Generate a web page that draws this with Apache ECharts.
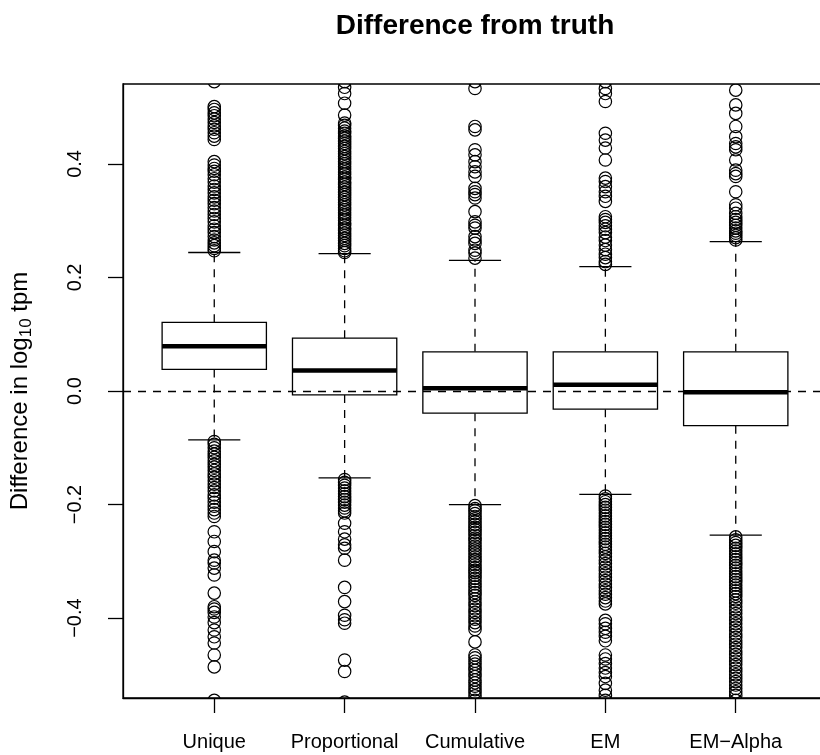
<!DOCTYPE html>
<html><head><meta charset="utf-8">
<script src="https://cdn.jsdelivr.net/npm/echarts@6/dist/echarts.min.js"></script>
<style>html,body{margin:0;padding:0;background:#fff}#c{width:820px;height:755px}</style>
</head><body><div id="c"></div>
<script>
const categories = ['Unique', 'Proportional', 'Cumulative', 'EM', 'EM\u2212Alpha'];
const whiskerLow = [-0.086, -0.153, -0.200, -0.182, -0.254];
const q1 = [0.038, -0.007, -0.039, -0.032, -0.061];
const median = [0.079, 0.036, 0.005, 0.011, -0.002];
const q3 = [0.121, 0.093, 0.069, 0.069, 0.069];
const whiskerHigh = [0.244, 0.242, 0.230, 0.219, 0.263];
const yTicks = [-0.4, -0.2, 0.0, 0.2, 0.4];

const outUnique = [
  0.545, 0.501, 0.496, 0.49, 0.485, 0.479, 0.473, 0.467, 0.461, 0.455, 0.449, 0.443,
  0.404, 0.398, 0.392, 0.387, 0.381, 0.374, 0.368, 0.361, 0.355, 0.349, 0.342, 0.336, 0.33, 0.323,
  0.317, 0.311, 0.304, 0.298, 0.291, 0.285, 0.279, 0.272, 0.266, 0.261, 0.256, 0.251, 0.247,
  -0.089, -0.094, -0.1, -0.106, -0.111, -0.117, -0.123, -0.129, -0.134, -0.14, -0.146, -0.152,
  -0.158, -0.164, -0.17, -0.176, -0.183, -0.189, -0.196, -0.203, -0.209, -0.215, -0.221,
  -0.248, -0.265, -0.283, -0.298, -0.303, -0.312, -0.324, -0.356, -0.38, -0.384, -0.39, -0.398,
  -0.408, -0.421, -0.433, -0.444, -0.465, -0.486, -0.545
];
const outProportional = [
  0.545, 0.535, 0.524, 0.507, 0.486,
  0.472, 0.468, 0.463, 0.458, 0.454, 0.449, 0.445, 0.44, 0.436, 0.431, 0.427, 0.422, 0.418, 0.413,
  0.409, 0.404, 0.4, 0.395, 0.391, 0.386, 0.382, 0.377, 0.373, 0.368, 0.364, 0.359, 0.355, 0.35,
  0.346, 0.341, 0.337, 0.332, 0.328, 0.323, 0.319, 0.314, 0.31, 0.305, 0.301, 0.296, 0.292, 0.287,
  0.283, 0.278, 0.274, 0.269, 0.265, 0.26, 0.256, 0.251, 0.247, 0.244,
  -0.156, -0.161, -0.166, -0.171, -0.176, -0.181, -0.186, -0.191, -0.196, -0.201, -0.206, -0.211,
  -0.215, -0.233, -0.248, -0.261, -0.271, -0.277, -0.298, -0.346, -0.371, -0.395, -0.403, -0.409,
  -0.474, -0.494, -0.548
];
const outCumulative = [
  0.545, 0.533, 0.466, 0.46, 0.425, 0.416, 0.404, 0.395, 0.386, 0.378, 0.357, 0.351, 0.346, 0.34,
  0.316, 0.298, 0.292, 0.287, 0.272, 0.266, 0.26, 0.248, 0.243, 0.234,
  -0.202, -0.207, -0.211, -0.216, -0.221, -0.225, -0.23, -0.235, -0.24, -0.244, -0.249, -0.254,
  -0.259, -0.263, -0.268, -0.273, -0.278, -0.282, -0.287, -0.292, -0.297, -0.301, -0.306, -0.311,
  -0.316, -0.32, -0.325, -0.33, -0.335, -0.34, -0.345, -0.35, -0.355, -0.36, -0.366, -0.372,
  -0.378, -0.384, -0.39, -0.396, -0.402, -0.408, -0.414, -0.42,
  -0.442, -0.465, -0.47, -0.476, -0.481, -0.487, -0.492, -0.498, -0.503, -0.509, -0.514, -0.52,
  -0.526, -0.531, -0.537, -0.545
];
const outEM = [
  0.545, 0.533, 0.524, 0.51, 0.454, 0.442, 0.428, 0.407, 0.375, 0.369, 0.36, 0.351, 0.343, 0.334,
  0.307, 0.302, 0.297, 0.291, 0.285, 0.279, 0.271, 0.265, 0.257, 0.249, 0.241, 0.235, 0.228, 0.223,
  -0.185, -0.19, -0.195, -0.2, -0.205, -0.21, -0.215, -0.22, -0.225, -0.23, -0.235, -0.24, -0.245,
  -0.25, -0.255, -0.26, -0.265, -0.27, -0.275, -0.28, -0.286, -0.292, -0.298, -0.304, -0.31, -0.316,
  -0.322, -0.328, -0.334, -0.34, -0.346, -0.352, -0.358, -0.364, -0.37, -0.375,
  -0.404, -0.41, -0.418, -0.425, -0.432, -0.44, -0.465, -0.472, -0.48, -0.488, -0.496, -0.503,
  -0.515, -0.527, -0.536, -0.545
];
const outEMAlpha = [
  0.53, 0.504, 0.489, 0.466, 0.448, 0.436, 0.43, 0.425, 0.407, 0.389, 0.383, 0.378, 0.351, 0.328,
  0.322, 0.313, 0.307, 0.302, 0.297, 0.292, 0.287, 0.282, 0.278, 0.274, 0.27, 0.266,
  -0.257, -0.262, -0.267, -0.272, -0.277, -0.282, -0.287, -0.292, -0.297, -0.302, -0.307, -0.312,
  -0.317, -0.322, -0.327, -0.332, -0.337, -0.342, -0.347, -0.352, -0.357, -0.362, -0.368, -0.374,
  -0.38, -0.386, -0.392, -0.398, -0.404, -0.41, -0.416, -0.422, -0.428, -0.434, -0.44, -0.446,
  -0.452, -0.458, -0.464, -0.47, -0.476, -0.482, -0.488, -0.494, -0.5, -0.506, -0.512, -0.518,
  -0.524, -0.53, -0.536, -0.545
];
const outliers = [outUnique, outProportional, outCumulative, outEM, outEMAlpha];

const FONT = 'Liberation Sans, Arial, Helvetica, sans-serif';
const boxData = categories.map((c, k) => [k + 1, whiskerLow[k], q1[k], median[k], q3[k], whiskerHigh[k]]);
const outData = [];
outliers.forEach((arr, k) => arr.forEach(v => outData.push([k + 1, v])));

const fmtY = v => (Math.round(v * 10) / 10).toFixed(1).replace('-', '\u2212');
const dash = [8, 7];

function renderBox(params, api) {
  const x = api.value(0);
  const lo = api.value(1), b1 = api.value(2), med = api.value(3), b3 = api.value(4), hi = api.value(5);
  const halfBox = 0.4, halfStaple = 0.2;
  const cTop = api.coord([x, b3]), cBot = api.coord([x, b1]);
  const cHi = api.coord([x, hi]), cLo = api.coord([x, lo]);
  const L = api.coord([x - halfBox, med])[0], R = api.coord([x + halfBox, med])[0];
  const sL = api.coord([x - halfStaple, med])[0], sR = api.coord([x + halfStaple, med])[0];
  const cMed = api.coord([x, med]);
  const line = '#000';
  return {
    type: 'group',
    children: [
      { type: 'line', shape: { x1: cTop[0], y1: cTop[1], x2: cHi[0], y2: cHi[1] }, style: { stroke: line, lineWidth: 1.3, lineDash: dash } },
      { type: 'line', shape: { x1: cBot[0], y1: cBot[1], x2: cLo[0], y2: cLo[1] }, style: { stroke: line, lineWidth: 1.3, lineDash: dash } },
      { type: 'line', shape: { x1: sL, y1: cHi[1], x2: sR, y2: cHi[1] }, style: { stroke: line, lineWidth: 1.3 } },
      { type: 'line', shape: { x1: sL, y1: cLo[1], x2: sR, y2: cLo[1] }, style: { stroke: line, lineWidth: 1.3 } },
      { type: 'rect', shape: { x: L, y: cTop[1], width: R - L, height: cBot[1] - cTop[1] }, style: { fill: '#fff', stroke: line, lineWidth: 1.3 } },
      { type: 'line', shape: { x1: L, y1: cMed[1], x2: R, y2: cMed[1] }, style: { stroke: line, lineWidth: 4.5 } }
    ]
  };
}
function renderOut(params, api) {
  const p = api.coord([api.value(0), api.value(1)]);
  return { type: 'circle', shape: { cx: p[0], cy: p[1], r: 6.2 }, style: { fill: 'none', stroke: '#000', lineWidth: 1.2 } };
}

const chart = echarts.init(document.getElementById('c'), null, { renderer: 'canvas' });
chart.setOption({
  animation: false,
  backgroundColor: '#fff',
  grid: { left: 123, right: -7, top: 84, bottom: 57, outerBoundsMode: 'none', containLabel: false,
    show: true, borderColor: '#000', borderWidth: 1.3, backgroundColor: 'transparent' },
  graphic: [{
    type: 'text', x: 475, y: 26,
    style: { text: 'Difference from truth', font: 'bold 28px ' + FONT, fill: '#000', align: 'center', verticalAlign: 'middle' }
  }],
  xAxis: {
    type: 'value', min: 0.3, max: 5.7,
    splitLine: { show: false },
    axisLine: { show: true, onZero: false, lineStyle: { color: '#000', width: 1.3 } },
    axisTick: { show: true, length: 15, lineStyle: { color: '#000', width: 1.3 }, customValues: [1, 2, 3, 4, 5] },
    axisLabel: { customValues: [1, 2, 3, 4, 5], formatter: v => categories[Math.round(v) - 1], fontSize: 20, fontFamily: FONT, color: '#000', margin: 34 }
  },
  yAxis: {
    type: 'value', min: -0.5408, max: 0.5408,
    name: 'Difference in log{sub|10} tpm', nameLocation: 'middle', nameRotate: 90, nameGap: 88,
    nameTextStyle: { fontSize: 24, fontFamily: FONT, color: '#000', rich: { sub: { fontSize: 17, fontFamily: FONT, color: '#000', verticalAlign: 'bottom', padding: [12, 0, 0, 0] } } },
    splitLine: { show: false },
    axisLine: { show: true, onZero: false, lineStyle: { color: '#000', width: 1.3 } },
    axisTick: { show: true, length: 15, lineStyle: { color: '#000', width: 1.3 }, customValues: yTicks },
    axisLabel: { customValues: yTicks, rotate: 90, formatter: fmtY, fontSize: 20, fontFamily: FONT, color: '#000', margin: 38 }
  },
  series: [
    { type: 'custom', z: 2, data: boxData, renderItem: renderBox, clip: true,
      encode: { x: 0, y: [1, 2, 3, 4, 5] } },
    { type: 'custom', z: 3, data: outData, renderItem: renderOut, clip: true, encode: { x: 0, y: 1 },
      markLine: { silent: true, symbol: 'none', label: { show: false }, lineStyle: { color: '#000', width: 1.3, type: dash }, data: [{ yAxis: 0 }] } }
  ]
});
</script></body></html>
